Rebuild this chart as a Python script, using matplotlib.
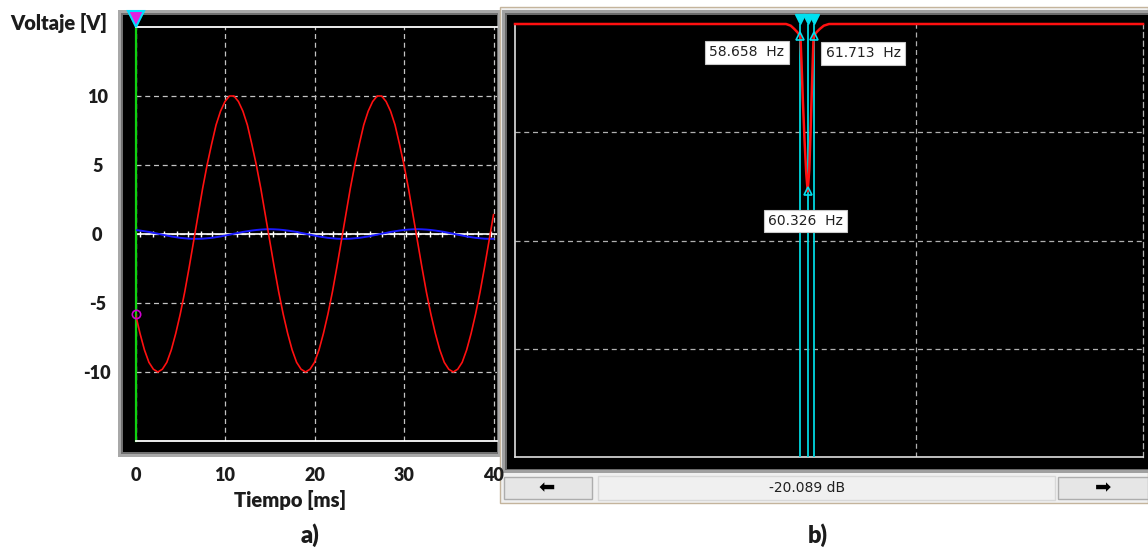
import numpy as np
import matplotlib.pyplot as plt
from matplotlib.patches import Rectangle

plt.rcParams['font.family'] = ['Lato', 'DejaVu Sans']

W, H = 1148, 548

# ---- a) time signals, read off every 0.5 ms ----
t_ms = np.arange(0, 40.5, 0.5)
v_red = [-5.8, -7.2, -8.4, -9.3, -9.8, -10.0, -9.8, -9.3, -8.4, -7.2, -5.8,
         -4.2, -2.4, -0.5, 1.4, 3.3, 5.0, 6.5, 7.9, 8.9, 9.6, 10.0,
         10.0, 9.6, 8.9, 7.9, 6.5, 5.0, 3.3, 1.4, -0.5, -2.4, -4.2,
         -5.8, -7.2, -8.4, -9.3, -9.8, -10.0, -9.8, -9.3, -8.4, -7.2, -5.8,
         -4.2, -2.4, -0.5, 1.4, 3.3, 5.0, 6.5, 7.9, 8.9, 9.6, 10.0,
         10.0, 9.6, 8.9, 7.9, 6.5, 5.0, 3.3, 1.4, -0.5, -2.4, -4.2,
         -5.8, -7.2, -8.4, -9.3, -9.8, -10.0, -9.8, -9.3, -8.4, -7.2, -5.8,
         -4.2, -2.4, -0.5, 1.4]
v_blue = [0.29, 0.25, 0.20, 0.15, 0.08, 0.02, -0.05, -0.11, -0.18, -0.23, -0.28,
          -0.31, -0.34, -0.35, -0.35, -0.34, -0.31, -0.28, -0.23, -0.18, -0.11, -0.05,
          0.02, 0.08, 0.15, 0.20, 0.25, 0.29, 0.32, 0.34, 0.35, 0.34, 0.32,
          0.29, 0.25, 0.20, 0.15, 0.08, 0.02, -0.05, -0.11, -0.18, -0.23, -0.28,
          -0.31, -0.34, -0.35, -0.35, -0.34, -0.31, -0.28, -0.23, -0.18, -0.11, -0.05,
          0.02, 0.08, 0.15, 0.20, 0.25, 0.29, 0.32, 0.34, 0.35, 0.34, 0.32,
          0.29, 0.25, 0.20, 0.15, 0.08, 0.02, -0.05, -0.11, -0.18, -0.23, -0.28,
          -0.31, -0.34, -0.35, -0.35]
white_ticks_ms = [0.5, 1.9, 3.2, 4.6, 5.9, 7.3, 8.6, 10.0, 11.3, 12.7, 14.0, 15.4,
                  16.7, 18.1, 19.4, 20.8, 22.1, 23.5, 24.8, 26.2, 27.5, 28.9, 30.2,
                  31.6, 32.9, 34.3, 35.6, 37.0, 38.3, 39.7]
xticks_a = [0, 10, 20, 30, 40]
yticks_a = [-10, -5, 0, 5, 10]

# ---- b) notch filter response ----
f_hz = [19.5, 50, 55.5, 56.5, 57.3, 58.0, 58.658, 58.9, 59.2, 59.6, 60.0, 60.326,
        60.7, 61.0, 61.3, 61.55, 61.713, 62.4, 63.2, 64.2, 65.5, 220]
gain_db = [0, 0, 0, -0.2, -0.6, -1.0, -1.5, -4.5, -9.0, -14.0, -18.0, -20.089,
           -17.5, -13.0, -8.0, -4.0, -1.5, -1.0, -0.6, -0.2, 0, 0]
cursor_hz = [58.658, 60.326, 61.713]
cursor_db = [-1.5, -20.089, -1.5]
cursor_txt = ['58.658  Hz', '60.326  Hz', '61.713  Hz']
readout = '-20.089 dB'

fig = plt.figure(figsize=(W / 100, H / 100), dpi=100)
fig.patch.set_facecolor('white')


def add_rect(x0, y0, x1, y1, fc, ec='none', lw=0, z=-10):
    r = Rectangle((x0 / W, 1 - y1 / H), (x1 - x0) / W, (y1 - y0) / H,
                  transform=fig.transFigure, facecolor=fc, edgecolor=ec,
                  linewidth=lw, zorder=z)
    fig.add_artist(r)


# window frames
add_rect(118, 10, 500, 457, '#a8a8a8', z=-10)
add_rect(121, 13, 498, 454, '#707070', z=-9)
add_rect(123, 15, 497, 452, 'black', z=-8)

add_rect(500, 7, 1148, 503, '#f0f0f0', ec='#c4b49c', lw=1, z=-10)
add_rect(502, 10, 1148, 473, '#a0a0a0', z=-9)
add_rect(505, 13, 1148, 470, '#6a6a6a', z=-8)
add_rect(507, 15, 1148, 469, 'black', z=-7)

# scroll bar
add_rect(504, 477, 592, 499, '#e6e6e6', ec='#adadad', lw=1, z=-6)
add_rect(598, 476, 1055, 500, '#f0f0f0', ec='#d8d8d8', lw=1, z=-6)
add_rect(1058, 477, 1148, 499, '#e6e6e6', ec='#adadad', lw=1, z=-6)
fig.text(807 / W, 1 - 488 / H, readout, ha='center', va='center', fontsize=10,
         family='DejaVu Sans', color='#202020')
fig.text(547 / W, 1 - 488 / H, '\u2b05', ha='center', va='center', fontsize=14,
         family='DejaVu Sans', color='black')
fig.text(1103 / W, 1 - 488 / H, '\u27a1', ha='center', va='center', fontsize=14,
         family='DejaVu Sans', color='black')

# ---- panel a ----
ax1 = fig.add_axes([135.5 / W, 1 - 441 / H, (497 - 135.5) / W, (441 - 27) / H])
ax1.set_facecolor('none')
ax1.set_xlim(0, (497 - 135.5) / 8.95)
ax1.set_ylim(-15, 15)
ax1.set_xticks(xticks_a)
ax1.set_xticklabels([str(v) for v in xticks_a], fontsize=13, fontweight='heavy', color='#1c1c1c')
ax1.set_yticks(yticks_a)
ax1.set_yticklabels([str(v) for v in yticks_a], fontsize=13, fontweight='heavy',
                    color='#1c1c1c', ha='center')
ax1.tick_params(axis='x', length=0, pad=18.5)
ax1.tick_params(axis='y', length=0, pad=27.5)
ax1.grid(True, color='#c4c4c4', ls=(0, (4, 3)), lw=0.9)
ax1.set_axisbelow(True)
for s in ['top', 'bottom']:
    ax1.spines[s].set_color('white')
    ax1.spines[s].set_linewidth(1.3)
ax1.spines['left'].set_color('#10d010')
ax1.spines['left'].set_linewidth(1.6)
ax1.spines['right'].set_visible(False)

ax1.axhline(0, color='white', lw=1.2, zorder=2)
ax1.plot(white_ticks_ms, [0] * len(white_ticks_ms), ls='none', marker='|',
         color='white', ms=5, mew=1, zorder=2)
ax1.plot(t_ms, v_blue, color='#1a1aff', lw=1.4, zorder=3)
ax1.plot(t_ms, v_red, color='#ff1010', lw=1.2, zorder=4)
ax1.plot(t_ms[0], v_red[0], 'o', mfc='none', mec='#d000d0', ms=6, mew=1.2,
         clip_on=False, zorder=6)
ax1.plot([t_ms[0]], [1.02], transform=ax1.get_xaxis_transform(), marker='v',
         ms=12, color='#e020e0', mec='#00e0ff', mew=1.5, clip_on=False, zorder=6)

fig.text(10 / W, 1 - 23 / H, 'Voltaje [V]', ha='left', va='center', fontsize=14.5,
         fontweight='heavy', color='#1c1c1c')
fig.text(290 / W, 1 - 500 / H, 'Tiempo [ms]', ha='center', va='center', fontsize=14.5,
         fontweight='heavy', color='#1c1c1c')
fig.text(310 / W, 1 - 535 / H, 'a)', ha='center', va='center', fontsize=17,
         fontweight='heavy', color='#1c1c1c')
fig.text(818 / W, 1 - 535 / H, 'b)', ha='center', va='center', fontsize=17,
         fontweight='heavy', color='#1c1c1c')

# ---- panel b ----
ax2 = fig.add_axes([515 / W, 1 - 457 / H, 628 / W, 433 / H])
ax2.set_facecolor('none')
ax2.set_xscale('log')
ax2.set_xlim(19.5, 220)
ax2.set_ylim(-52, 0)
ax2.set_xticks([91.6])
ax2.set_xticks([], minor=True)
ax2.set_yticks([-13, -26, -39])
ax2.set_xticklabels([])
ax2.set_yticklabels([])
ax2.tick_params(length=0)
ax2.grid(True, color='#b0b0b0', ls=(0, (4, 3)), lw=0.9)
ax2.set_axisbelow(True)
ax2.spines['left'].set_color('#e0e0e0')
ax2.spines['bottom'].set_color('#e0e0e0')
ax2.spines['left'].set_linewidth(1.2)
ax2.spines['bottom'].set_linewidth(1.2)
ax2.spines['top'].set_visible(False)
ax2.spines['right'].set_color('#b0b0b0')
ax2.spines['right'].set_linestyle((0, (4, 3)))
ax2.spines['right'].set_linewidth(0.9)

ax2.vlines(cursor_hz, -52, 0, color='#00d8e0', lw=1.3, zorder=3)
ax2.plot(f_hz, gain_db, color='#ff1010', lw=1.8, clip_on=False, zorder=4)
ax2.plot(cursor_hz, [1.012] * 3, transform=ax2.get_xaxis_transform(), ls='none',
         marker='v', ms=7, color='#00e0f0', clip_on=False, zorder=5)
ax2.plot(cursor_hz, cursor_db, ls='none', marker='^', mfc='none', mec='#00e0f0',
         ms=6, mew=1.2, zorder=5)

offsets = [(-11.5, -11.5, 'right'), (-1.5, -21.6, 'center'), (8.6, -12.2, 'left')]
for f, db, txt, (dx, dy, ha) in zip(cursor_hz, cursor_db, cursor_txt, offsets):
    ax2.annotate(txt, (f, db), xytext=(dx, dy), textcoords='offset points',
                 ha=ha, va='center', fontsize=10, family='DejaVu Sans', color='#202020',
                 bbox=dict(boxstyle='square,pad=0.3', fc='white', ec='#c8c8c8', lw=0.8),
                 zorder=6)

plt.savefig('out.png', dpi=100)
